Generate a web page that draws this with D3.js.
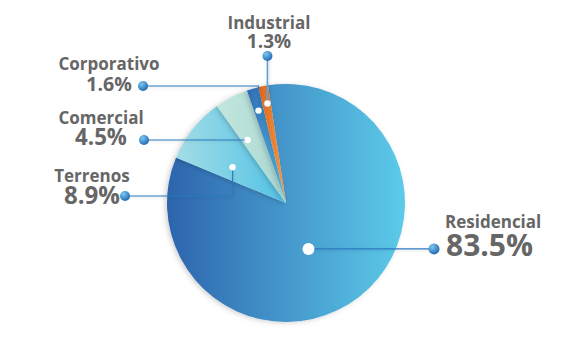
<!DOCTYPE html>
<html>
<head>
<meta charset="utf-8">
<script src="https://cdn.jsdelivr.net/npm/d3@7"></script>
<style>
  body { margin: 0; background: #fff; }
  text { font-family: "Open Sans", "Noto Sans", sans-serif; font-weight: 700; fill: #666; }
</style>
</head>
<body>
<div id="chart"></div>
<script>
/// Data
var categories = ["Residencial", "Terrenos", "Comercial", "Corporativo", "Industrial"];
var shares = [83.5, 8.9, 4.5, 1.6, 1.3];
var labels = ["83.5%", "8.9%", "4.5%", "1.6%", "1.3%"];

// slice colours (gradient left -> right)
var colorsFrom = ["#2d64ad", "#a3dde6", "#c3e6de", "#2c68b3", "#dd661d"];
var colorsTo = ["#5ccbe9", "#52c2e6", "#a9d8d1", "#5cc4ea", "#f39a48"];

//Geometry
var width = 580, height = 356;
var cx = 286, cy = 203, radius = 119;
var startDeg = -8.7;

// where the little white dot sits in each slice (fraction of slice angle, fraction of radius)
var dotPos = [[0.54, 0.43], [0.35, 0.54], [0.25, 0.62], [0.45, 0.81], [0.6, 0.85]];
// outer dot + text placement for each label
var labelPos = [
  { x: 434, y: null, tx: 445, anchor: "start", nameY: 228, pctY: 256 },
  { x: 125, y: 196, tx: 92, anchor: "middle", nameY: 182, pctY: 204 },
  { x: 144, y: 140, tx: 101, anchor: "middle", nameY: 124, pctY: 145 },
  { x: 143, y: 86, tx: 109, anchor: "middle", nameY: 70, pctY: 91 },
  { x: null, y: 56, tx: 269, anchor: "middle", nameY: 29, pctY: 48 }
];

var svg = d3.select("#chart").append("svg")
  .attr("width", width)
  .attr("height", height);

var defs = svg.append("defs");

categories.forEach(function (c, i) {
  var g = defs.append("linearGradient")
    .attr("id", "grad" + i)
    .attr("x1", 0).attr("x2", 1).attr("y1", 0).attr("y2", 0);
  g.append("stop").attr("offset", "0%").attr("stop-color", colorsFrom[i]);
  g.append("stop").attr("offset", "100%").attr("stop-color", colorsTo[i]);
});

var dotGrad = defs.append("radialGradient")
  .attr("id", "dotGrad")
  .attr("cx", "35%").attr("cy", "30%").attr("r", "75%");
dotGrad.append("stop").attr("offset", "0%").attr("stop-color", "#7cc8ee");
dotGrad.append("stop").attr("offset", "100%").attr("stop-color", "#1d66b2");

var shadow = defs.append("filter")
  .attr("id", "shadow")
  .attr("x", "-20%").attr("y", "-20%").attr("width", "140%").attr("height", "140%");
shadow.append("feDropShadow")
  .attr("dx", -2).attr("dy", 1)
  .attr("stdDeviation", 2.5)
  .attr("flood-color", "#000")
  .attr("flood-opacity", 0.18);

// straight lines have an empty bbox, so the filter region is in user space
var lineShadow = defs.append("filter").attr("id", "lineShadow")
  .attr("filterUnits", "userSpaceOnUse")
  .attr("x", 0).attr("y", 0).attr("width", width).attr("height", height);
lineShadow.append("feDropShadow")
  .attr("dx", 1).attr("dy", 1)
  .attr("stdDeviation", 1.5)
  .attr("flood-color", "#000")
  .attr("flood-opacity", 0.15);

var pie = d3.pie()
  .sort(null)
  .value(function (d) { return d; })
  .startAngle(startDeg * Math.PI / 180)
  .endAngle(startDeg * Math.PI / 180 + 2 * Math.PI);

var arcs = pie(shares);
var arc = d3.arc().innerRadius(0).outerRadius(radius);

var pieG = svg.append("g")
  .attr("transform", "translate(" + cx + "," + cy + ")");

pieG.selectAll("path")
  .data(arcs)
  .join("path")
  .attr("d", arc)
  .attr("fill", function (d, i) { return "url(#grad" + i + ")"; })
  .attr("filter", "url(#shadow)");

// position of the white dot inside each slice
function innerPoint(d, i) {
  var a = d.startAngle + dotPos[i][0] * (d.endAngle - d.startAngle);
  var r = dotPos[i][1] * radius;
  return [cx + r * Math.sin(a), cy - r * Math.cos(a)];
}

var leaders = svg.append("g");
var labelG = svg.append("g");

arcs.forEach(function (d, i) {
  var p = innerPoint(d, i);
  var lp = labelPos[i];
  var ox = lp.x == null ? p[0] : lp.x;
  var oy = lp.y == null ? p[1] : lp.y;

  leaders.append("path")
    .attr("d", d3.line()([[ox, oy], [p[0], oy], p]))
    .attr("fill", "none")
    .attr("stroke", i == 4 ? "#5aa3dc" : "#2f78c2")
    .attr("stroke-width", i == 4 ? 1.6 : 1.2)
    .attr("filter", "url(#lineShadow)");

  leaders.append("circle")
    .attr("cx", p[0]).attr("cy", p[1])
    .attr("r", i == 0 ? 6 : 3.2)
    .attr("fill", "#fff");

  leaders.append("circle")
    .attr("cx", ox).attr("cy", oy)
    .attr("r", i == 0 ? 5.5 : 5)
    .attr("fill", "url(#dotGrad)");
});

var pctSize = d3.scaleLog().domain([1.3, 83.5]).range([19, 30]);

labelG.selectAll("text.name")
  .data(categories)
  .join("text")
  .attr("class", "name")
  .attr("x", function (d, i) { return labelPos[i].tx; })
  .attr("y", function (d, i) { return labelPos[i].nameY; })
  .attr("text-anchor", function (d, i) { return labelPos[i].anchor; })
  .attr("font-size", 17)
  .text(function (d) { return d; });

labelG.selectAll("text.pct")
  .data(labels)
  .join("text")
  .attr("class", "pct")
  .attr("x", function (d, i) { return labelPos[i].tx + (i == 0 ? 1 : 0); })
  .attr("y", function (d, i) { return labelPos[i].pctY; })
  .attr("text-anchor", function (d, i) { return labelPos[i].anchor; })
  .attr("font-size", function (d, i) { return pctSize(shares[i]); })
  .text(function (d) { return d; });
</script>
</body>
</html>
